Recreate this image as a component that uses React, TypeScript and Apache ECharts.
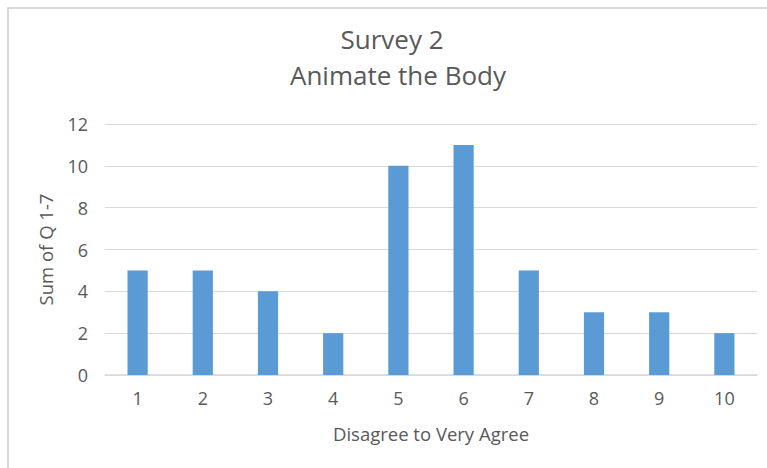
import React, { useEffect, useRef } from "react";
import * as echarts from "echarts";

// Survey responses: answer scale 1..10 and summed score for Q 1-7
const categories = ["1", "2", "3", "4", "5", "6", "7", "8", "9", "10"];
const sums = [5, 5, 4, 2, 10, 11, 5, 3, 3, 2];
const titleLines = ["Survey 2", "Animate the Body"];
const xAxisName = "Disagree to Very Agree";
const yAxisName = "Sum of Q 1-7";

const TEXT = "#595959";
const GRID = "#d9d9d9";
const BAR = "#5b9bd5";
const FONT = "'Open Sans', 'Noto Sans', sans-serif";

export default function App() {
  const ref = useRef<HTMLDivElement>(null);

  useEffect(() => {
    if (!ref.current) return;
    const chart = echarts.init(ref.current, undefined, { renderer: "svg" });
    chart.setOption({
      animation: false,
      backgroundColor: "#ffffff",
      textStyle: { fontFamily: FONT },
      graphic: [
        {
          type: "rect",
          shape: { x: 8, y: 8, width: 800, height: 500 },
          style: { fill: "none", stroke: GRID, lineWidth: 2 },
          silent: true,
        },
        {
          type: "text",
          x: 392,
          y: 39,
          style: {
            text: titleLines[0],
            fill: TEXT,
            font: `26px ${FONT}`,
            align: "center",
            verticalAlign: "middle",
          },
        },
        {
          type: "text",
          x: 398,
          y: 75,
          style: {
            text: titleLines[1],
            fill: TEXT,
            font: `26px ${FONT}`,
            align: "center",
            verticalAlign: "middle",
          },
        },
      ],
      grid: { left: 105, right: 10, top: 124, bottom: 93, containLabel: false },
      xAxis: {
        type: "category",
        data: categories,
        name: xAxisName,
        nameLocation: "middle",
        nameGap: 49,
        nameTextStyle: { color: TEXT, fontSize: 18.5, fontFamily: FONT },
        axisLine: { show: true, lineStyle: { color: GRID, width: 1.5 } },
        axisTick: { show: false },
        axisLabel: { color: TEXT, fontSize: 18, fontFamily: FONT, margin: 14 },
      },
      yAxis: {
        type: "value",
        min: 0,
        max: 12,
        interval: 2,
        name: yAxisName,
        nameLocation: "middle",
        nameGap: 50,
        nameTextStyle: { color: TEXT, fontSize: 18.5, fontFamily: FONT },
        axisLine: { show: false },
        axisTick: { show: false },
        axisLabel: { color: TEXT, fontSize: 18, fontFamily: FONT, margin: 17 },
        splitLine: { lineStyle: { color: GRID, width: 1 } },
      },
      series: [
        {
          type: "bar",
          data: sums,
          barWidth: "31%",
          itemStyle: { color: BAR },
          silent: true,
        },
      ],
    });
    return () => chart.dispose();
  }, []);

  return (
    <div
      ref={ref}
      style={{ position: "fixed", left: 0, top: 0, width: 767, height: 468 }}
    />
  );
}
